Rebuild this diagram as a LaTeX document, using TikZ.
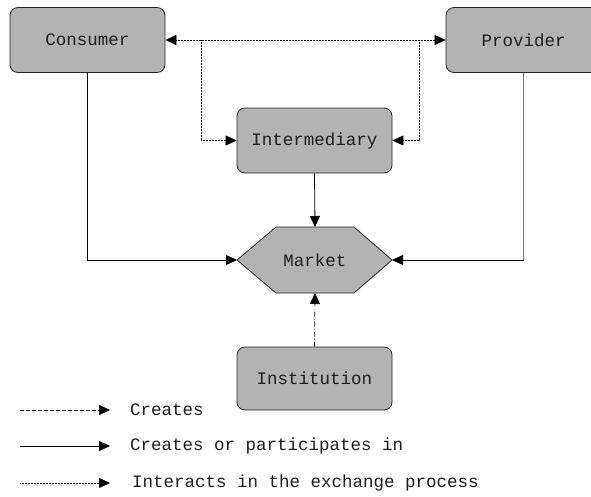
\documentclass[tikz,border=0pt]{standalone}
\usepackage{fontspec}
\setmainfont{Liberation Mono}
\usetikzlibrary{arrows.meta}
\definecolor{boxfill}{RGB}{179,179,179}
\definecolor{edge}{RGB}{40,40,40}
\definecolor{txt}{RGB}{30,30,30}
\begin{document}
\begin{tikzpicture}[x=1pt,y=-1pt,
  box/.style={draw=edge, line width=0.8pt, fill=boxfill, rounded corners=8pt,
    minimum width=155pt, minimum height=65pt, inner sep=0pt, text=txt,
    font=\fontsize{17.5}{19}\selectfont},
  tiphead/.tip={Triangle[length=11pt,width=10pt]},
  tip/.style={-tiphead},
  solidcon/.style={tip, line width=0.8pt, draw=black},
  dotcon/.style={line width=0.6pt, dash pattern=on 0.6pt off 0.9pt},
  dashcon/.style={tip, line width=0.7pt, dash pattern=on 4pt off 2pt},
  dashdotcon/.style={tip, line width=0.7pt, dash pattern=on 5pt off 2pt on 1pt off 2pt},
  legtext/.style={anchor=west, inner sep=0pt, text=txt, font=\fontsize{17.5}{19}\selectfont}]
\useasboundingbox (0,0) rectangle (591,496);
\fill[white] (0,0) rectangle (591,496);

\node[box] (cons) at (87.5,40) {Consumer};
\node[box] (prov) at (523.5,40) {Provider};
\node[box] (inter) at (314.5,140.5) {Intermediary};
\node[box, minimum height=63pt] (inst) at (314.5,378.5) {Institution};

% Market hexagon
\coordinate (mL) at (237,260);
\coordinate (mR) at (392,260);
\coordinate (mT) at (315,227);
\coordinate (mB) at (315,293);
\draw[draw=edge, line width=0.8pt, fill=boxfill]
  (237,260) -- (276,227) -- (354,227) -- (392,260) -- (354,293) -- (276,293) -- cycle;
\node[font=\fontsize{17.5}{19}\selectfont, text=txt] (mkt) at (315,260) {Market};

% solid connectors
\draw[solidcon] (cons.south) |- (mL);
\coordinate (pc) at (prov.south |- mR);
\draw[line width=0.8pt, draw=black!55] (prov.south) -- (pc);
\draw[solidcon] (pc) -- (mR);
\draw[solidcon] (inter.south) -- (mT);
% dash-dot from institution
\draw[dashdotcon] (inst.north) -- (mB);

% dotted interactions
\draw[dotcon, tiphead-tiphead] (cons.east) -- (prov.west);
\coordinate (dl) at (201,40);
\coordinate (dr) at (419,40);
\draw[dotcon, -tiphead] (dl) |- (inter.west);
\draw[dotcon, -tiphead] (dr) |- (inter.east);

% legend
\coordinate (la1) at (20,410); \coordinate (lb1) at (110,410);
\coordinate (la2) at (20,446); \coordinate (lb2) at (110,446);
\coordinate (la3) at (20,483); \coordinate (lb3) at (110,483);
\draw[dashcon] (la1) -- (lb1);
\draw[solidcon] (la2) -- (lb2);
\draw[dotcon, -tiphead] (la3) -- (lb3);
\node[legtext] (t1) at (130,410) {Creates};
\node[legtext] (t2) at (130,446) {Creates or participates in};
\node[legtext] (t3) at (132,483) {Interacts in the exchange process};
\end{tikzpicture}
\end{document}
